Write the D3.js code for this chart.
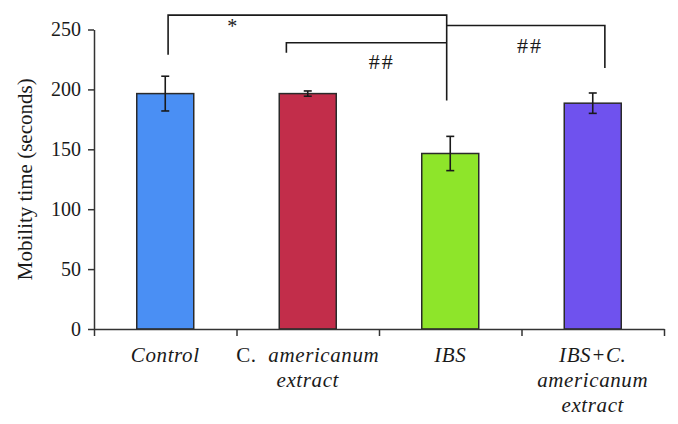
<!DOCTYPE html>
<html><head><meta charset="utf-8">
<script src="https://cdn.jsdelivr.net/npm/d3@7"></script>
<style>
html,body{margin:0;padding:0;background:#fff;}
text{font-family:"Liberation Serif","Times New Roman",serif;fill:#1a1a1a;}
</style></head>
<body><svg id="chart" width="678" height="424"></svg>
<script>
// ---- data ----
const categories = ["Control", "C. americanum extract", "IBS", "IBS+C. americanum extract"];
const labelLines = [["Control"], ["C.  americanum", "extract"], ["IBS"], ["IBS+C.", "americanum", "extract"]];
const means = [196.5, 196.5, 146.5, 188.5];
const errors = [14.5, 2.2, 14.3, 8.5];
const colors = ["#4a8ff4", "#c22d4a", "#8ee52a", "#6f52ee"];
const yTicks = [0, 50, 100, 150, 200, 250];
const yLabel = "Mobility time (seconds)";
// brackets: x positions in category-index units, y levels in data units
const brackets = [
  {x1: 0.52, x2: 2.475, top: 262, y1: 229, y2: 190.8},
  {x1: 1.35, x2: 2.475, top: 238.9, y1: 230.6, y2: null},
  {x1: 2.475, x2: 3.585, top: 253.3, y1: null, y2: 217.8}
];
const marks = [
  {text: "*", x: 0.97, y: 247},
  {text: "##", x: 2.02, y: 217},
  {text: "##", x: 3.06, y: 230}
];

// ---- chart ----
const svg = d3.select("#chart");
const x = d3.scaleBand().domain(categories).range([94, 664]).paddingInner(0.6).paddingOuter(0.3);
const xPos = d3.scaleLinear().domain([0, 4]).range([94, 664]);
const y = d3.scaleLinear().domain([0, 250]).range([329, 29.5]);

// bars
svg.append("g").selectAll("rect").data(categories).join("rect")
  .attr("x", d => x(d)).attr("width", x.bandwidth())
  .attr("y", (d, i) => y(means[i])).attr("height", (d, i) => y(0) - y(means[i]))
  .attr("fill", (d, i) => colors[i]).attr("stroke", "#2a2a2a").attr("stroke-width", 1.5);

// error bars
const eg = svg.append("g").attr("stroke", "#1a1a1a").attr("stroke-width", 1.6).attr("fill", "none");
categories.forEach((c, i) => {
  const cx = x(c) + x.bandwidth() / 2;
  const t = y(means[i] + errors[i]), b = y(means[i] - errors[i]);
  eg.append("line").attr("x1", cx).attr("x2", cx).attr("y1", t).attr("y2", b);
  eg.append("line").attr("x1", cx - 4).attr("x2", cx + 4).attr("y1", t).attr("y2", t);
  eg.append("line").attr("x1", cx - 4).attr("x2", cx + 4).attr("y1", b).attr("y2", b);
});

// axes
const yAxis = svg.append("g").attr("transform", "translate(94,0)")
  .call(d3.axisLeft(y).tickValues(yTicks).tickSize(6).tickSizeOuter(0).tickPadding(7));
const xAxis = svg.append("g").attr("transform", "translate(0,329)")
  .call(d3.axisBottom(xPos).tickValues([0, 1, 2, 3, 4]).tickFormat("").tickSize(7).tickSizeOuter(0));
[yAxis, xAxis].forEach(a => {
  a.select(".domain").attr("stroke", "#333").attr("stroke-width", 1.5);
  a.selectAll(".tick line").attr("stroke", "#333").attr("stroke-width", 1.5);
});
yAxis.selectAll(".tick text").attr("font-size", 20).attr("fill", "#1a1a1a")
  .style("font-family", '"Liberation Serif",serif');

// y label
svg.append("text").attr("transform", `translate(32,${(y(0) + y(250)) / 2}) rotate(-90)`)
  .attr("text-anchor", "middle").attr("font-size", 21).text(yLabel);

// category labels
categories.forEach((c, i) => {
  const cx = x(c) + x.bandwidth() / 2;
  labelLines[i].forEach((line, j) => {
    const t = svg.append("text").attr("x", cx).attr("y", 362 + j * 25)
      .attr("text-anchor", "middle").attr("font-size", 21).attr("letter-spacing", 0.6);
    if (line.startsWith("C. ")) {
      t.append("tspan").text("C.");
      t.append("tspan").attr("font-style", "italic").text("\u00a0\u00a0" + line.slice(2).trim());
    } else {
      t.attr("font-style", "italic").text(line);
    }
  });
});

// significance brackets
const bg = svg.append("g").attr("stroke", "#1a1a1a").attr("stroke-width", 1.6).attr("fill", "none");
brackets.forEach(b => {
  const pts = [];
  if (b.y1 !== null) pts.push([xPos(b.x1), y(b.y1)]);
  pts.push([xPos(b.x1), y(b.top)], [xPos(b.x2), y(b.top)]);
  if (b.y2 !== null) pts.push([xPos(b.x2), y(b.y2)]);
  bg.append("path").attr("d", d3.line()(pts));
});
marks.forEach(m => {
  svg.append("text").attr("x", xPos(m.x)).attr("y", y(m.y)).attr("text-anchor", "middle")
    .attr("font-size", m.text === "*" ? 20 : 22).attr("letter-spacing", m.text === "*" ? 0 : 2)
    .text(m.text);
});
</script></body></html>
